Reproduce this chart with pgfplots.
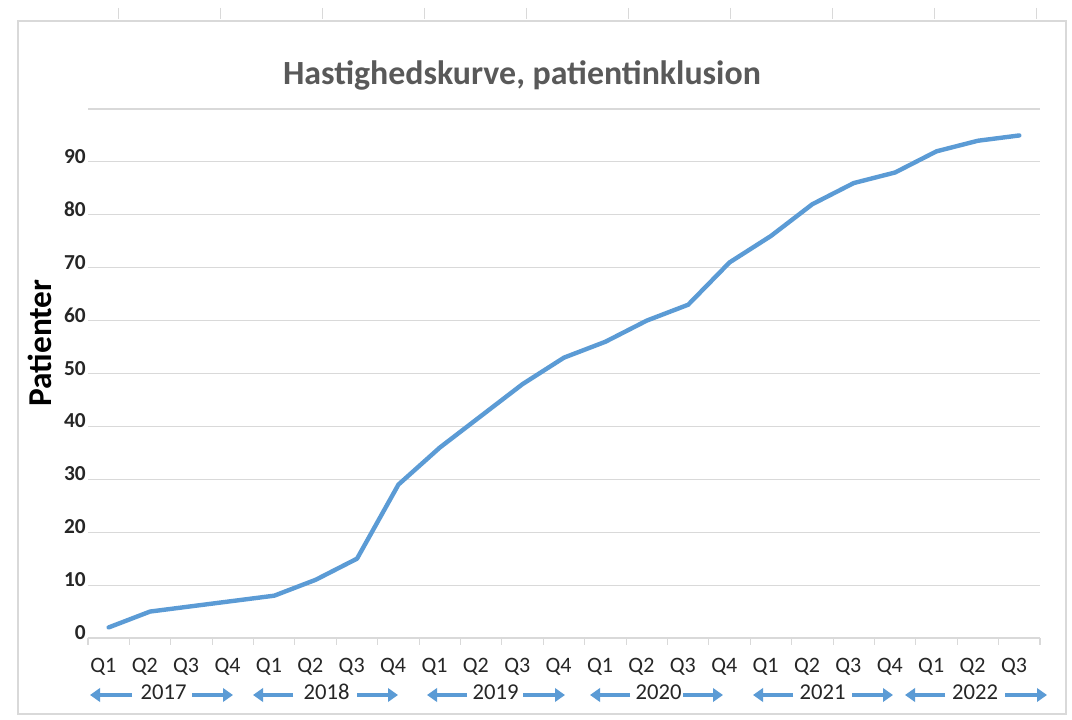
\documentclass[border=0pt]{standalone}
\usepackage{pgfplots}
\pgfplotsset{compat=1.18}
\usepackage{pgfplotstable}
\usetikzlibrary{arrows.meta}
\usepackage{fontspec}
\setmainfont{Carlito}
\definecolor{lineblue}{HTML}{5B9BD5}
\definecolor{gridgray}{HTML}{D9D9D9}
\definecolor{titlegray}{HTML}{595959}
\definecolor{txt}{HTML}{262626}

\pgfplotstableread{
x y
0 2
1 5
2 6
3 7
4 8
5 11
6 15
7 29
8 36
9 42
10 48
11 53
12 56
13 60
14 63
15 71
16 76
17 82
18 86
19 88
20 92
21 94
22 95
}\datatable

\begin{document}
\begin{tikzpicture}
\useasboundingbox[fill=white] (0pt,0pt) rectangle (804pt,-540pt);
\begin{scope}[x=0.75pt,y=-0.75pt]
  \draw[gray!30, line width=0.9pt] (18,21) rectangle (1066,714);
  \foreach \xx in {118,220,322,424,526,628,730,832,934,1036}
    \draw[gray!30, line width=0.6pt] (\xx,8) -- (\xx,19);
\end{scope}
\begin{axis}[
  at={(66pt,-478.5pt)}, anchor=south west,
  scale only axis, width=714pt, height=396.75pt,
  xmin=-0.5, xmax=22.5, ymin=0, ymax=100,
  axis line style={draw=none},
  ymajorgrids, grid style={gridgray, line width=0.8pt},
  ytick={0,10,...,100},
  yticklabels={0,10,20,30,40,50,60,70,80,90,{}},
  ytick style={draw=none},
  yticklabel style={font=\bfseries\fontsize{16}{16}\selectfont, text=txt, anchor=east, inner xsep=0pt, xshift=-1.5pt, yshift=4pt},
  xtick={0,...,22},
  xticklabels={Q1,Q2,Q3,Q4,Q1,Q2,Q3,Q4,Q1,Q2,Q3,Q4,Q1,Q2,Q3,Q4,Q1,Q2,Q3,Q4,Q1,Q2,Q3},
  major x tick style={draw=none},
  minor xtick={-0.5,0.5,...,22.5},
  xtick pos=bottom, tick align=outside,
  minor tick length=5pt, major tick length=0pt,
  every minor tick/.append style={gridgray, line width=0.8pt},
  xticklabel style={font=\fontsize{16.5}{16.5}\selectfont, text=txt, anchor=base, yshift=-26pt, xshift=-4pt},
  clip=false,
]
\addplot[lineblue, line width=3.3pt, line join=round, line cap=round, mark=none] table[x=x,y=y] {\datatable};
\end{axis}
\begin{scope}[x=0.75pt,y=-0.75pt]
  \node[text=titlegray, font=\bfseries\fontsize{25.4}{30}\selectfont] at (522,75) {Hastighedskurve, patientinklusion};
  \node[rotate=90, font=\bfseries\fontsize{25}{30}\selectfont] at (40,343) {Patienter};
  \tikzset{yarr/.style={lineblue, line width=3pt, -{Triangle[length=7.5pt,width=10pt]}}}
  \foreach \la/\lb/\tx/\ra/\rb/\yr in {132/90/163.5/192/233/2017, 293/253/326.5/357/398/2018, 467/427/495.5/523/565/2019, 630/590/658.5/683/723/2020, 793/753/822.5/852/893/2021, 945/905/975/1005/1047/2022}{
    \draw[yarr] (\la,695) -- (\lb,695);
    \draw[yarr] (\ra,695) -- (\rb,695);
    \node[text=txt, font=\fontsize{17}{17}\selectfont] at (\tx,692) {\yr};
  }
\end{scope}
\end{tikzpicture}
\end{document}
